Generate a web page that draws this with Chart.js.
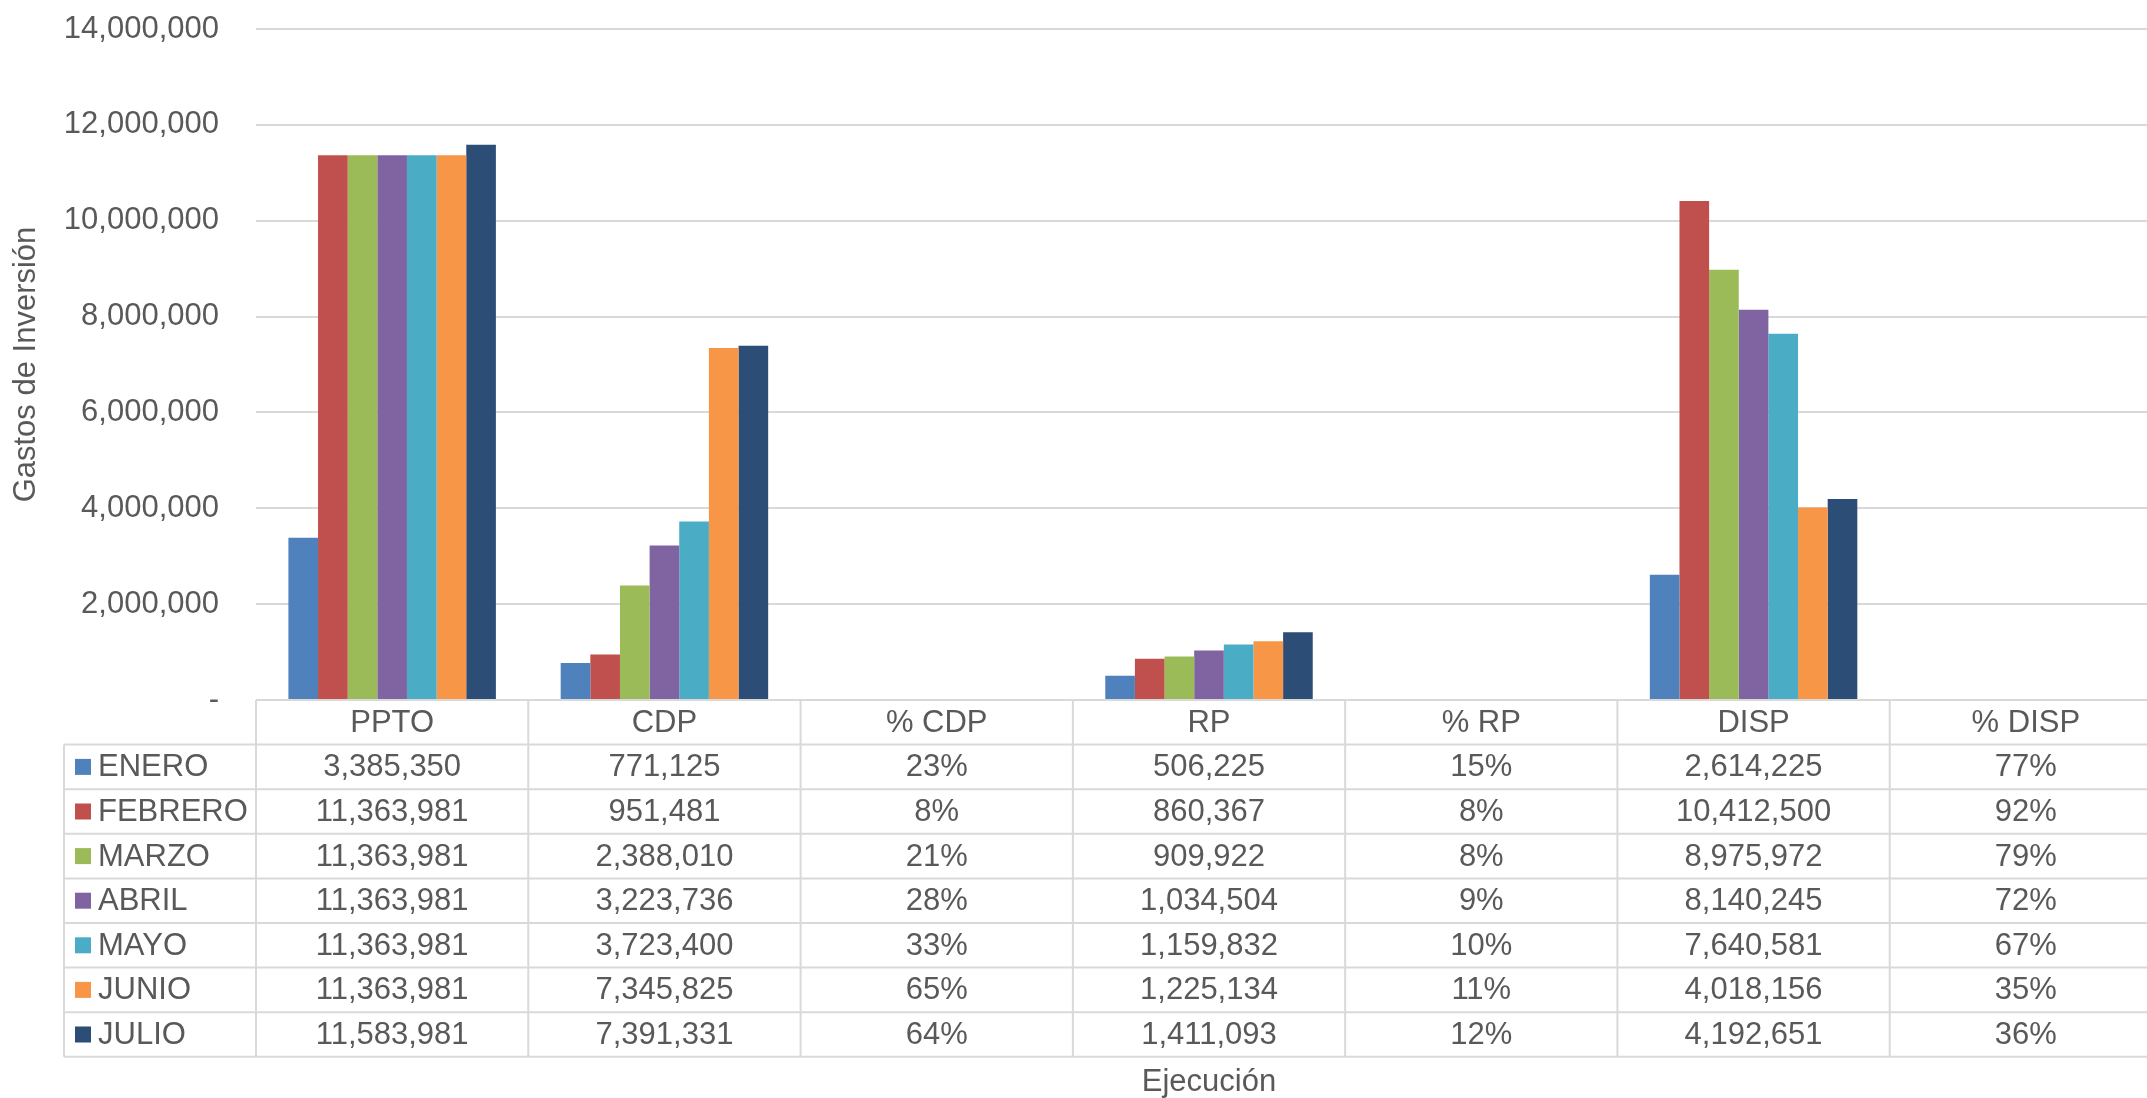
<!DOCTYPE html>
<html>
<head>
<meta charset="utf-8">
<script src="https://cdn.jsdelivr.net/npm/chart.js@4.4.1/dist/chart.umd.min.js"></script>
<style>
  html, body { margin: 0; padding: 0; background: #fff; overflow: hidden; }
  /* el área de trazado de Excel sigue más allá del borde derecho de la imagen */
  #wrap { width: 2147px; height: 1098px; overflow: hidden; }
</style>
</head>
<body>
<div id="wrap"><canvas id="chart" width="2162" height="1098"></canvas></div>
<script>
// Columnas del eje X y meses (series)
const categories = ['PPTO', 'CDP', '% CDP', 'RP', '% RP', 'DISP', '% DISP'];
const months = ['ENERO', 'FEBRERO', 'MARZO', 'ABRIL', 'MAYO', 'JUNIO', 'JULIO'];
const monthColors = ['#4F81BD', '#C0504D', '#9BBB59', '#8064A2', '#4BACC6', '#F79646', '#2C4D75'];

// Valores por columna, un valor por mes
const ppto    = [3385350, 11363981, 11363981, 11363981, 11363981, 11363981, 11583981];
const cdp     = [771125, 951481, 2388010, 3223736, 3723400, 7345825, 7391331];
const pctCdp  = [0.23, 0.08, 0.21, 0.28, 0.33, 0.65, 0.64];
const rp      = [506225, 860367, 909922, 1034504, 1159832, 1225134, 1411093];
const pctRp   = [0.15, 0.08, 0.08, 0.09, 0.10, 0.11, 0.12];
const disp    = [2614225, 10412500, 8975972, 8140245, 7640581, 4018156, 4192651];
const pctDisp = [0.77, 0.92, 0.79, 0.72, 0.67, 0.35, 0.36];

const yTicks = [0, 2000000, 4000000, 6000000, 8000000, 10000000, 12000000, 14000000];

const columns = [ppto, cdp, pctCdp, rp, pctRp, disp, pctDisp];
const isPct = [false, false, true, false, true, false, true];

const FONT = "'Liberation Sans', Arial, sans-serif";
const FSIZE = 31;
const TEXT = '#595959';
const LINE = '#D9D9D9';

const fmt = (v, pct) => pct ? Math.round(v * 100) + '%' : v.toLocaleString('en-US');

const datasets = months.map((m, i) => ({
    label: m,
    data: columns.map(col => col[i]),
    backgroundColor: monthColors[i],
    borderWidth: 0,
    categoryPercentage: 0.762,
    barPercentage: 1.0
}));

// Tabla de datos debajo del área de trazado (estilo Excel)
const dataTable = {
    id: 'dataTable',
    afterDraw(chart) {
        const { ctx, chartArea: area, scales: { x } } = chart;
        const rowH = 44.6;
        const top = area.bottom;
        const legendLeft = 64;
        const nRows = months.length + 1;
        const bottom = top + nRows * rowH;

        ctx.save();
        ctx.strokeStyle = LINE;
        ctx.lineWidth = 2;
        ctx.beginPath();
        for (let k = 0; k <= nRows; k++) {
            const y = top + k * rowH;
            ctx.moveTo(k === 0 ? area.left : legendLeft, y);
            ctx.lineTo(area.right, y);
        }
        ctx.moveTo(legendLeft, top + rowH);
        ctx.lineTo(legendLeft, bottom);
        for (let i = 0; i <= categories.length; i++) {
            const xb = x.getPixelForValue(i - 0.5);
            ctx.moveTo(xb, top);
            ctx.lineTo(xb, bottom);
        }
        ctx.stroke();

        ctx.fillStyle = TEXT;
        ctx.font = FSIZE + 'px ' + FONT;
        ctx.textAlign = 'center';
        ctx.textBaseline = 'middle';
        categories.forEach((c, i) => {
            ctx.fillText(c, x.getPixelForValue(i), top + rowH / 2 + 1);
        });
        months.forEach((m, r) => {
            const yc = top + (r + 1.5) * rowH + 1;
            columns.forEach((col, i) => {
                ctx.fillText(fmt(col[r], isPct[i]), x.getPixelForValue(i), yc);
            });
        });

        ctx.textAlign = 'left';
        months.forEach((m, r) => {
            const yc = top + (r + 1.5) * rowH;
            ctx.fillStyle = monthColors[r];
            ctx.fillRect(75, yc - 8, 16, 16);
            ctx.fillStyle = TEXT;
            ctx.fillText(m, 98, yc + 1);
        });

        ctx.textAlign = 'center';
        ctx.fillText('Ejecución', 1209, 1082);
        ctx.restore();
    }
};

new Chart(document.getElementById('chart').getContext('2d'), {
    type: 'bar',
    data: { labels: categories, datasets },
    options: {
        responsive: false,
        animation: false,
        devicePixelRatio: 1,
        layout: { padding: { left: 0, top: 29, right: 0, bottom: 398 } },
        plugins: { legend: { display: false }, tooltip: { enabled: false } },
        scales: {
            x: { display: false },
            y: {
                min: 0,
                max: 14000000,
                afterBuildTicks: (scale) => { scale.ticks = yTicks.map(v => ({ value: v })); },
                afterFit: (scale) => { scale.width = 256; },
                border: { display: false },
                grid: { color: LINE, lineWidth: 2, drawTicks: true, tickLength: 33, tickColor: 'rgba(0,0,0,0)' },
                ticks: {
                    color: TEXT,
                    padding: 4,
                    font: { family: FONT, size: FSIZE },
                    callback: v => v === 0 ? '-' : v.toLocaleString('en-US')
                },
                title: {
                    display: true,
                    text: 'Gastos de Inversión',
                    color: TEXT,
                    font: { family: FONT, size: FSIZE },
                    padding: { top: 8, bottom: 0 }
                }
            }
        }
    },
    plugins: [dataTable]
});
</script>
</body>
</html>
